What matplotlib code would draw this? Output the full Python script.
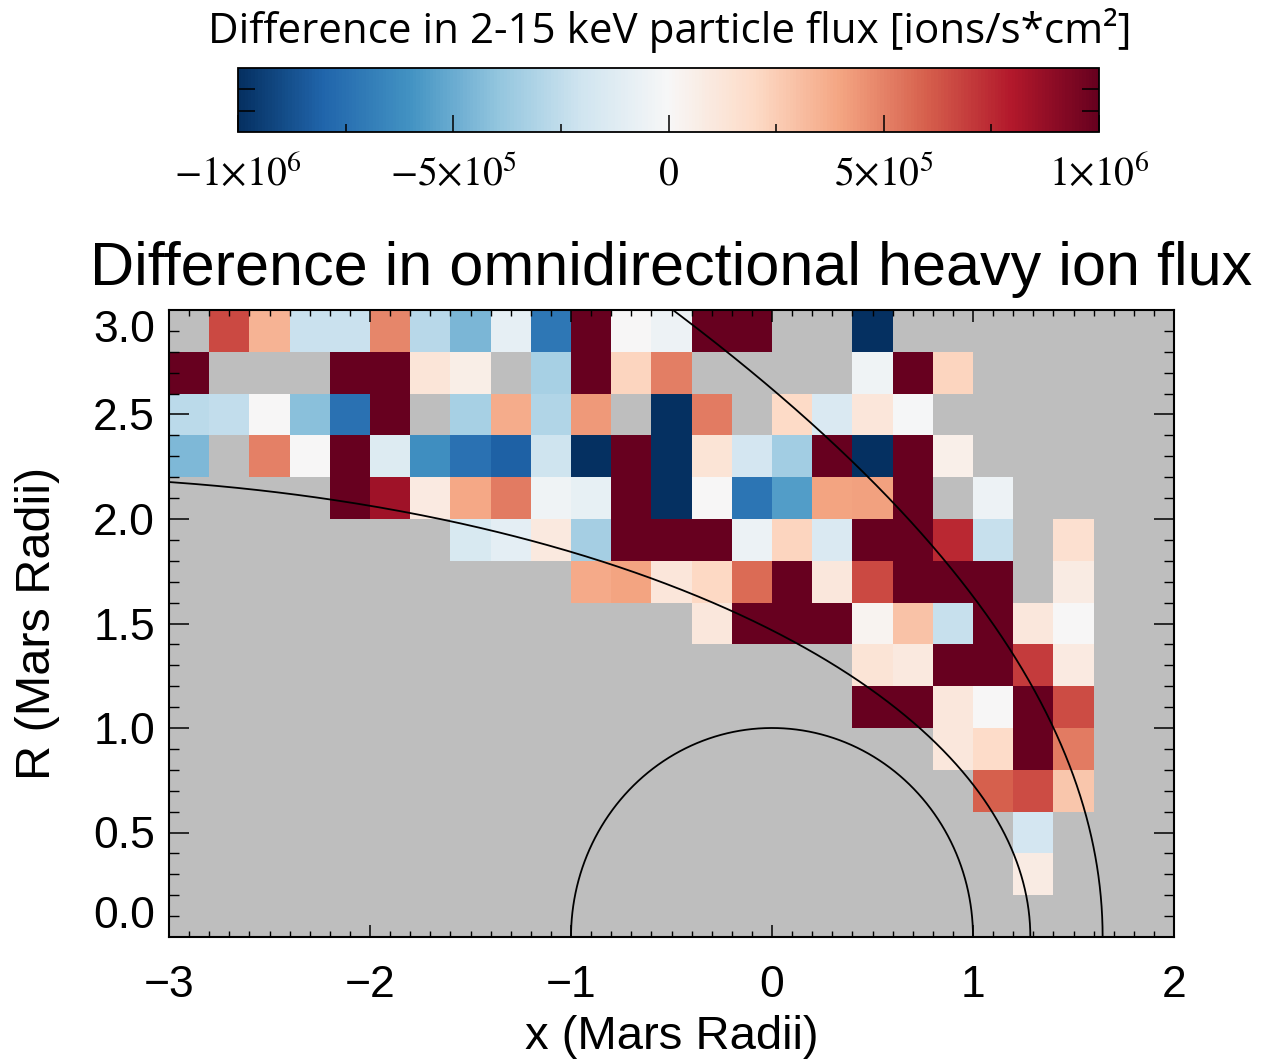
import numpy as np
import matplotlib
matplotlib.use("Agg")
import matplotlib.pyplot as plt
from matplotlib.ticker import MultipleLocator, FixedLocator

plt.rcParams['font.family'] = ['Liberation Sans', 'DejaVu Sans']
plt.rcParams['mathtext.fontset'] = 'stix'

N = np.nan
UNIT = 1e5  # cell values below are in units of 1e5 ions/(s cm^2)

# bin edges (Mars radii)
x_edges = np.round(np.arange(-3.0, 2.0001, 0.2), 2)
r_edges = np.round(np.arange(0.0, 3.0001, 0.2), 2)

# one list per R bin (top -> bottom), 25 x bins from -3.0 to 2.0
flux_R_2p8_3p0 = [N, 6.6, 3.5, -2.2, -2.2, 4.9, -2.8, -4.6, -0.9, -7.2,
                  10, 0.0, -0.5, 10, 10, N, N, -10, N, N, N, N, N, N, N]
flux_R_2p6_2p8 = [10, N, N, N, 10, 10, 1.3, 0.7, N, -3.3,
                  10, 2.2, 5.1, N, N, N, N, -0.4, 10, 2.2, N, N, N, N, N]
flux_R_2p4_2p6 = [-2.7, -2.5, 0.0, -4.2, -7.5, 10, N, -3.3, 3.7, -3.0,
                  4.3, N, -10, 5.2, N, 2.0, -1.5, 1.2, -0.1, N, N, N, N, N, N]
flux_R_2p2_2p4 = [-4.5, N, 5.0, 0.0, 10, -1.4, -6.2, -7.5, -8.2, -2.1,
                  -10, 10, -10, 1.4, -1.8, -3.5, 10, -10, 10, 0.6, N, N, N, N, N]
flux_R_2p0_2p2 = [N, N, N, N, 10, 8.5, 0.9, 3.9, 5.2, -0.4,
                  -0.8, 10, -10, 0.0, -7.3, -5.6, 4.0, 4.1, 10, N, -0.5, N, N, N, N]
flux_R_1p8_2p0 = [N, N, N, N, N, N, N, -1.6, -1.0, 1.0,
                  -3.4, 10, 10, 10, -0.6, 2.2, -1.5, 10, 10, 7.5, -2.3, N, 1.6, N, N]
flux_R_1p6_1p8 = [N, N, N, N, N, N, N, N, N, N,
                  3.8, 4.0, 1.2, 2.1, 5.7, 10, 1.1, 6.6, 10, 10, 10, N, 0.8, N, N]
flux_R_1p4_1p6 = [N, N, N, N, N, N, N, N, N, N,
                  N, N, N, 1.1, 10, 10, 10, 0.3, 2.9, -2.3, 10, 1.1, 0.0, N, N]
flux_R_1p2_1p4 = [N, N, N, N, N, N, N, N, N, N,
                  N, N, N, N, N, N, N, 1.4, 1.0, 10, 10, 7.0, 0.9, N, N]
flux_R_1p0_1p2 = [N, N, N, N, N, N, N, N, N, N,
                  N, N, N, N, N, N, N, 10, 10, 1.1, 0.0, 10, 6.5, N, N]
flux_R_0p8_1p0 = [N, N, N, N, N, N, N, N, N, N,
                  N, N, N, N, N, N, N, N, N, 1.1, 1.9, 10, 5.2, N, N]
flux_R_0p6_0p8 = [N, N, N, N, N, N, N, N, N, N,
                  N, N, N, N, N, N, N, N, N, N, 6.0, 6.5, 2.8, N, N]
flux_R_0p4_0p6 = [N, N, N, N, N, N, N, N, N, N,
                  N, N, N, N, N, N, N, N, N, N, N, -1.8, N, N, N]
flux_R_0p2_0p4 = [N, N, N, N, N, N, N, N, N, N,
                  N, N, N, N, N, N, N, N, N, N, N, 0.8, N, N, N]
flux_R_0p0_0p2 = [N] * 25

# model boundaries, conic fits (Vignes et al. 2000), Mars radii
BS_X0, BS_ECC, BS_L = 0.64, 1.03, 2.04
MPB_X0, MPB_ECC, MPB_L = 0.78, 0.90, 0.96
MARS_RADIUS = 1.0

x_ticks = [-3, -2, -1, 0, 1, 2]
x_ticklabels = ['\u22123', '\u22122', '\u22121', '0', '1', '2']
y_ticks = [0.0, 0.5, 1.0, 1.5, 2.0, 2.5, 3.0]
y_ticklabels = ['0.0', '0.5', '1.0', '1.5', '2.0', '2.5', '3.0']
cbar_ticks = [-1e6, -5e5, 0, 5e5, 1e6]
cbar_minor = [-7.5e5, -2.5e5, 2.5e5, 7.5e5]
cbar_ticklabels = [r'$-1{\times}10^{6}$', r'$-5{\times}10^{5}$', r'$0$',
                   r'$5{\times}10^{5}$', r'$1{\times}10^{6}$']
VMIN, VMAX = -1e6, 1e6

rows_top_to_bottom = [flux_R_2p8_3p0, flux_R_2p6_2p8, flux_R_2p4_2p6, flux_R_2p2_2p4,
                      flux_R_2p0_2p2, flux_R_1p8_2p0, flux_R_1p6_1p8, flux_R_1p4_1p6,
                      flux_R_1p2_1p4, flux_R_1p0_1p2, flux_R_0p8_1p0, flux_R_0p6_0p8,
                      flux_R_0p4_0p6, flux_R_0p2_0p4, flux_R_0p0_0p2]
Z = np.ma.masked_invalid(np.array(rows_top_to_bottom[::-1], dtype=float) * UNIT)

W, H = 1271, 1062
fig = plt.figure(figsize=(W / 100, H / 100), dpi=100)

ax = fig.add_axes([169 / W, 1 - 937 / H, 1005 / W, 627 / H])
ax.set_facecolor('#bebebe')
mesh = ax.pcolormesh(x_edges, r_edges, Z, cmap='RdBu_r', vmin=VMIN, vmax=VMAX,
                     shading='flat', antialiased=False)

th = np.linspace(0, 2.75, 800)
r_bs = BS_L / (1 + BS_ECC * np.cos(th))
ax.plot(BS_X0 + r_bs * np.cos(th), r_bs * np.sin(th), color='black', lw=1.3)
th2 = np.linspace(0, 3.0, 800)
r_mpb = MPB_L / (1 + MPB_ECC * np.cos(th2))
ax.plot(MPB_X0 + r_mpb * np.cos(th2), r_mpb * np.sin(th2), color='black', lw=1.3)
th3 = np.linspace(0, np.pi, 400)
ax.plot(MARS_RADIUS * np.cos(th3), MARS_RADIUS * np.sin(th3), color='black', lw=1.3)

ax.set_xlim(-3, 2)
ax.set_ylim(0, 3)
ax.set_xticks(x_ticks, x_ticklabels)
ax.set_yticks(y_ticks, y_ticklabels)
ax.xaxis.set_minor_locator(MultipleLocator(0.1))
ax.yaxis.set_minor_locator(MultipleLocator(0.1))
ax.tick_params(axis='x', which='major', direction='in', length=8.6, width=1.1,
               top=True, bottom=True, labelsize=32, pad=20)
ax.tick_params(axis='x', which='minor', direction='in', length=4.3, width=1.0,
               top=True, bottom=True)
ax.tick_params(axis='y', which='major', direction='in', length=14.4, width=1.1,
               left=True, right=True, labelsize=32, pad=10)
ax.tick_params(axis='y', which='minor', direction='in', length=7.2, width=1.0,
               left=True, right=True)
for sp in ax.spines.values():
    sp.set_linewidth(1.5)

ax.set_xlabel('x (Mars Radii)', fontsize=34)
ax.set_ylabel('R (Mars Radii)', fontsize=35)
ax.xaxis.label.set_va('baseline')
ax.xaxis.set_label_coords(0.5, -0.178)
ax.yaxis.set_label_coords(-0.1085, 0.5)

fig.text(671 / W, 1 - 285 / H, 'Difference in omnidirectional heavy ion flux',
         ha='center', va='baseline', fontsize=44)

# colorbar
cax = fig.add_axes([238 / W, 1 - 132 / H, 861 / W, 64 / H])
cb = fig.colorbar(mesh, cax=cax, orientation='horizontal')
cb.outline.set_linewidth(1.3)
cax.xaxis.set_major_locator(FixedLocator(cbar_ticks))
cax.xaxis.set_minor_locator(FixedLocator(cbar_minor))
cax.set_xticklabels(cbar_ticklabels)
cax.tick_params(axis='x', which='major', direction='in', length=12, width=1.1,
                bottom=True, top=False, labelsize=28.5, pad=38)
cax.tick_params(axis='x', which='minor', direction='in', length=6, width=1.1,
                bottom=True, top=False)
cax.yaxis.set_visible(True)
cax.set_yticks([1 / 3, 2 / 3])
cax.tick_params(axis='y', which='major', direction='in', length=12, width=1.1,
                left=True, right=True, labelleft=False, labelright=False)
for t in cax.xaxis.get_major_ticks():
    t.label1.set_va('baseline')

fig.text(670 / W, 1 - 43 / H, 'Difference in 2-15 keV particle flux [ions/s*cm\u00b2]',
         ha='center', va='baseline', fontsize=30.3, family=['Open Sans', 'DejaVu Sans'])

# keep the end labels inside the frame as in the original
yt = ax.yaxis.get_major_ticks()
yt[0].label1.set_va('bottom')
yt[-1].label1.set_va('top')

fig.savefig('out.png', dpi=100)
